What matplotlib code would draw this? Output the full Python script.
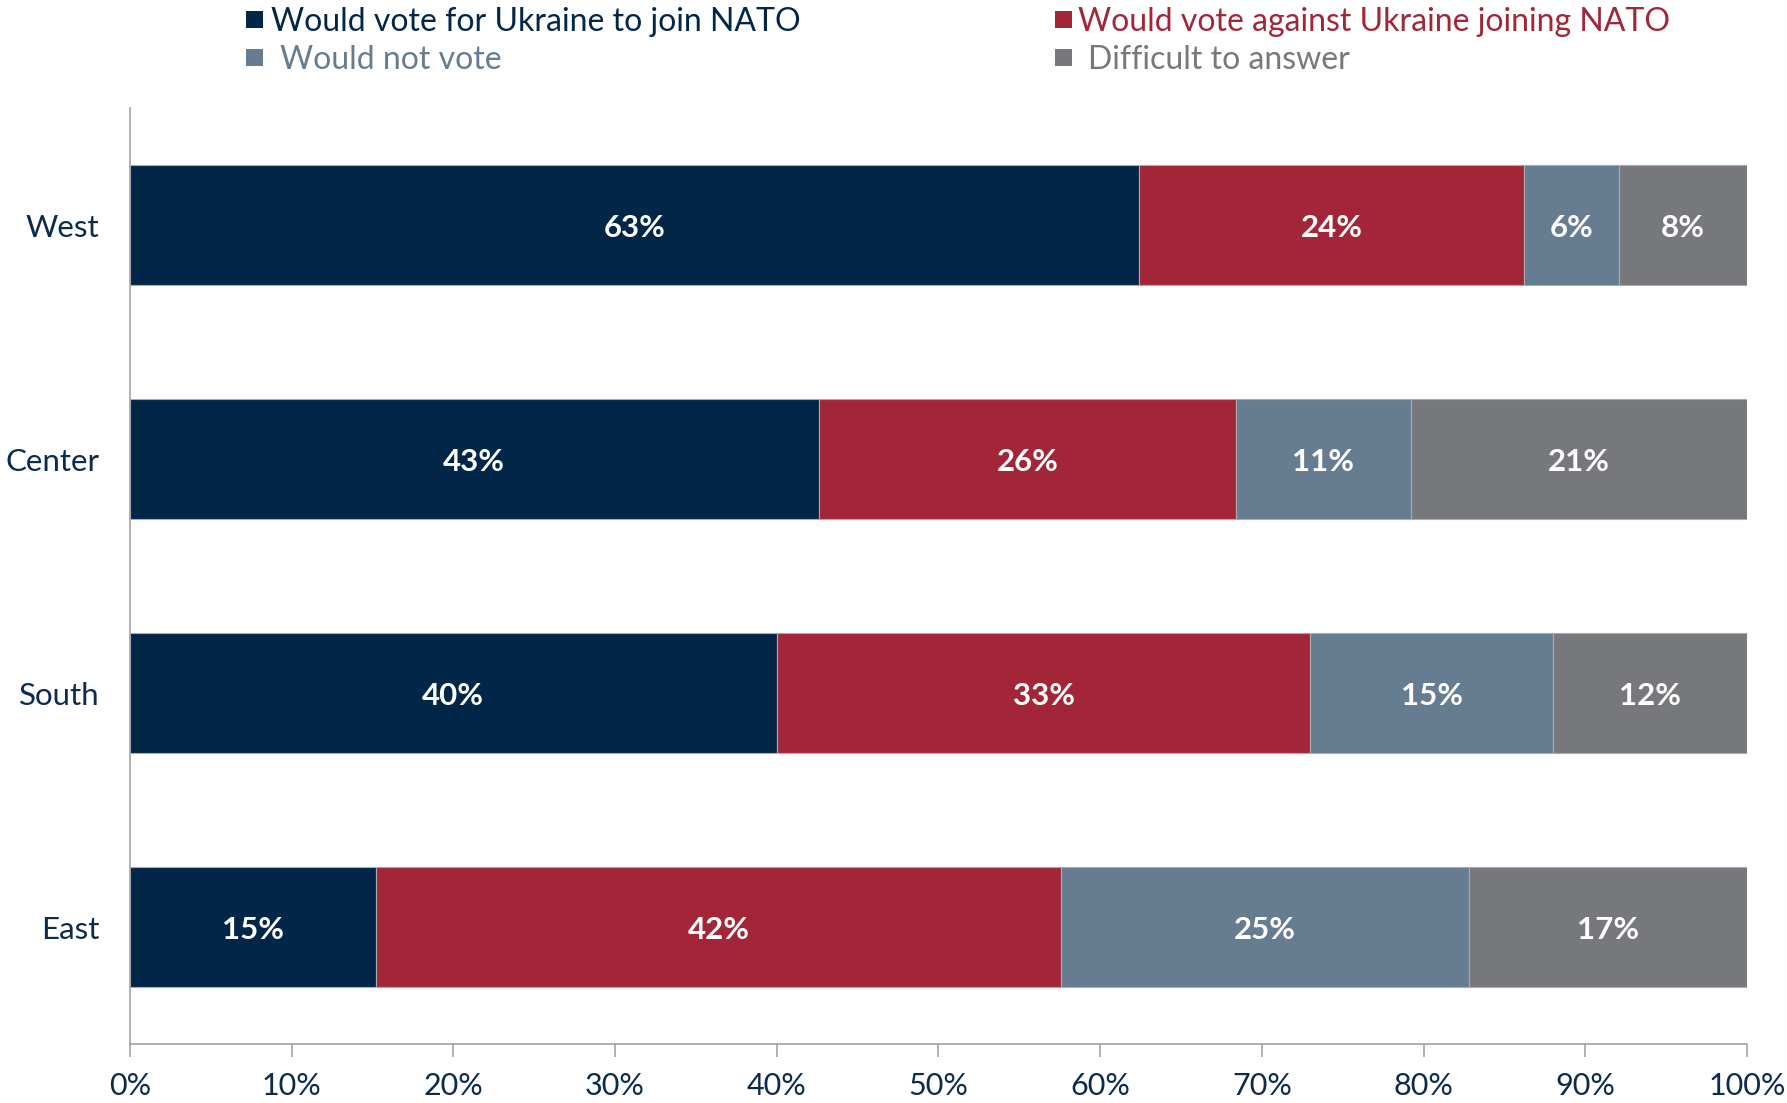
import matplotlib
matplotlib.use("Agg")
import matplotlib.pyplot as plt
from matplotlib.patches import Rectangle
import numpy as np

regions = ["West", "Center", "South", "East"]
series_names = ["Would vote for Ukraine to join NATO",
                "Would vote against Ukraine joining NATO",
                "Would not vote",
                "Difficult to answer"]
vote_for = [62.4, 42.6, 40.0, 15.2]
vote_against = [23.8, 25.8, 33.0, 42.4]
not_vote = [5.9, 10.8, 15.0, 25.2]
difficult = [7.9, 20.8, 12.0, 17.2]
labels_for = ["63%", "43%", "40%", "15%"]
labels_against = ["24%", "26%", "33%", "42%"]
labels_not = ["6%", "11%", "15%", "25%"]
labels_diff = ["8%", "21%", "12%", "17%"]
xticks = [0, 10, 20, 30, 40, 50, 60, 70, 80, 90, 100]
xtick_labels = ["0%", "10%", "20%", "30%", "40%", "50%", "60%", "70%", "80%", "90%", "100%"]

colors = ["#012647", "#A32638", "#667C91", "#77787B"]
navy = "#0B2B4C"
font = "Lato"

fig = plt.figure(figsize=(17.87, 11.03), dpi=100)
ax = fig.add_axes([0.0727, 0.0535, 0.9049, 0.8485])

y = np.arange(len(regions))[::-1]
data = [vote_for, vote_against, not_vote, difficult]
labs = [labels_for, labels_against, labels_not, labels_diff]
left = np.zeros(len(regions))
for vals, col, lab in zip(data, colors, labs):
    vals = np.array(vals)
    bars = ax.barh(y, vals, left=left, height=0.51, color=col,
                   edgecolor="#A9ADB2", linewidth=0.8)
    for b, t in zip(bars, lab):
        ax.text(b.get_x() + b.get_width() / 2, b.get_y() + b.get_height() / 2, t,
                ha="center", va="center_baseline", color="white", fontsize=22.5,
                fontweight="bold", family=font)
    left += vals

ax.set_xlim(0, 100)
ax.set_ylim(-0.5, 3.5)
ax.set_xticks(xticks)
ax.set_xticklabels(xtick_labels, fontsize=22, color=navy, family=font)
ax.set_yticks(y)
ax.set_yticklabels(regions, fontsize=22.5, color=navy, family=font)
ax.tick_params(axis="y", length=0, pad=22)
ax.tick_params(axis="x", length=9, width=1.2, color="#A0A4A8", pad=11, direction="out")
for s in ["top", "right"]:
    ax.spines[s].set_visible(False)
for s in ["left", "bottom"]:
    ax.spines[s].set_color("#A0A4A8")
    ax.spines[s].set_linewidth(1.2)

W, H = 1787, 1103
legend_items = [
    (series_names[0], colors[0], 246, 271, 19),
    (series_names[1], colors[1], 1055, 1078, 19),
    (series_names[2], colors[2], 246, 280, 57),
    (series_names[3], colors[3], 1055, 1088, 57),
]
sq = 17
for name, col, sx, tx, cy in legend_items:
    fig.patches.append(Rectangle((sx / W, 1 - (cy + sq / 2) / H), sq / W, sq / H,
                                 transform=fig.transFigure, facecolor=col,
                                 edgecolor="none"))
    fig.text(tx / W, 1 - cy / H, name, ha="left", va="center_baseline", fontsize=23,
             color=col, family=font)

fig.savefig("out.png", dpi=100)
